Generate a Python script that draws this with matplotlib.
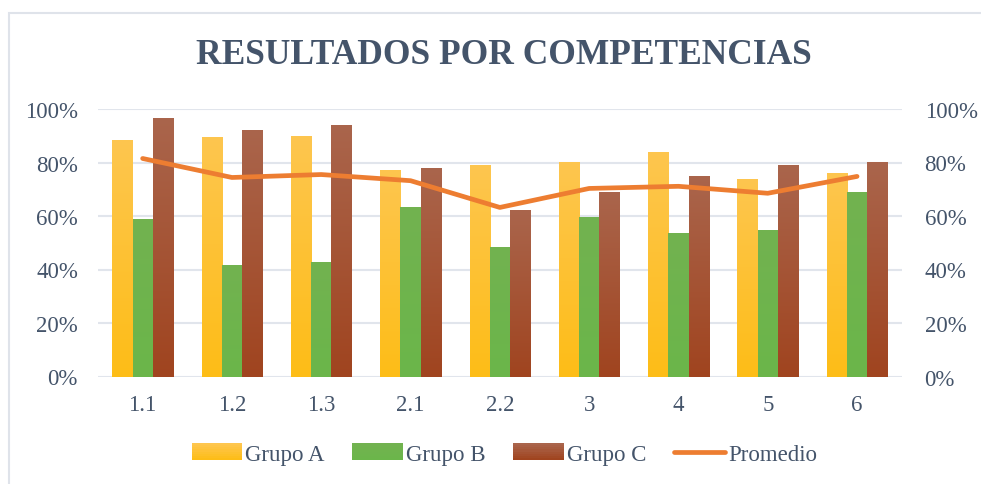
import matplotlib
matplotlib.use("Agg")
import matplotlib.pyplot as plt
import numpy as np
from matplotlib.patches import Rectangle
from matplotlib.colors import LinearSegmentedColormap
from matplotlib.legend_handler import HandlerBase

categories = ["1.1", "1.2", "1.3", "2.1", "2.2", "3", "4", "5", "6"]
grupo_a = [88.4, 89.5, 89.9, 77.2, 79.0, 80.2, 83.9, 73.8, 76.1]
grupo_b = [58.8, 41.6, 42.8, 63.3, 48.3, 59.7, 53.6, 54.8, 69.0]
grupo_c = [96.6, 92.1, 94.0, 77.9, 62.2, 69.1, 74.9, 79.0, 80.2]
promedio = [81.5, 74.4, 75.5, 73.2, 63.2, 70.3, 71.1, 68.5, 74.8]
yticks = [0, 20, 40, 60, 80, 100]
ytick_labels = ["0%", "20%", "40%", "60%", "80%", "100%"]

plt.rcParams['font.family'] = ['Liberation Serif', 'DejaVu Serif']
text_color = "#44546a"
grid_color = "#e1e5ec"
fs = 16.5

grads = {
    "Grupo A": ("#fdbd17", "#fec64f"),
    "Grupo B": ("#6bb64a", "#72b250"),
    "Grupo C": ("#a0441f", "#aa654c"),
}

fig = plt.figure(figsize=(9.81, 4.85), dpi=100)
fig.patches.append(Rectangle((9/981, -0.1), 1.2, 1 - 14/485 + 0.1, transform=fig.transFigure,
                             fill=False, edgecolor="#dfe3ea", linewidth=1.5))

ax = fig.add_axes([98/981, 1 - 377.5/485, (901.7 - 98)/981, (377.5 - 110)/485])
x = np.arange(len(categories))
w = 0.226

def grad_bar(ax, xpos, vals, name):
    bars = ax.bar(xpos, vals, width=w, color=grads[name][0], zorder=2, linewidth=0, label=name)
    cmap = LinearSegmentedColormap.from_list(name, [grads[name][0], grads[name][1]])
    g = np.linspace(0, 1, 256).reshape(-1, 1)
    for b in bars:
        x0, y0 = b.get_x(), b.get_y()
        ax.imshow(g, cmap=cmap, origin="lower", aspect="auto", zorder=2.5,
                  extent=(x0, x0 + b.get_width(), y0, y0 + b.get_height()),
                  clip_path=b, clip_on=True)
    return bars

grad_bar(ax, x - w, grupo_a, "Grupo A")
grad_bar(ax, x, grupo_b, "Grupo B")
grad_bar(ax, x + w, grupo_c, "Grupo C")
ax.plot(x, promedio, color="#ed7d31", linewidth=3.4, solid_capstyle="round",
        solid_joinstyle="round", zorder=4, label="Promedio")

ax.set_xlim(-0.5, len(categories) - 0.5)
ax.set_ylim(0, 100)
ax.set_yticks(yticks)
ax.set_yticklabels(ytick_labels)
ax.set_xticks(x)
ax.set_xticklabels(categories)
ax.yaxis.grid(True, color=grid_color, linewidth=1.5, zorder=0)
ax.set_axisbelow(True)
for s in ax.spines.values():
    s.set_visible(False)
ax.tick_params(axis="both", length=0, labelsize=fs, colors=text_color)
ax.tick_params(axis="y", pad=14.4)
ax.tick_params(axis="x", pad=12.5)

ax2 = ax.twinx()
ax2.set_ylim(0, 100)
ax2.set_yticks(yticks)
ax2.set_yticklabels(ytick_labels)
for s in ax2.spines.values():
    s.set_visible(False)
ax2.tick_params(axis="y", length=0, labelsize=fs, colors=text_color, pad=16.5)

fig.text(0.5135, 1 - 56/485, "RESULTADOS POR COMPETENCIAS", ha="center", va="center",
         fontsize=25.5, fontweight="bold", color=text_color)

class GradHandler(HandlerBase):
    def __init__(self, c0, c1):
        super().__init__()
        self.c0, self.c1 = c0, c1
    def create_artists(self, legend, orig_handle, xdescent, ydescent, width, height, fontsize, trans):
        cmap = LinearSegmentedColormap.from_list("h", [self.c0, self.c1])
        n = 8
        hh = 12.0
        y0 = -ydescent + height * 0.5 - hh / 2
        arts = []
        for i in range(n):
            arts.append(Rectangle((-xdescent, y0 + i * hh / n), width, hh / n + 0.3, transform=trans,
                                  facecolor=cmap(i / (n - 1)), edgecolor="none"))
        return arts

handles, labels = ax.get_legend_handles_labels()
order = ["Grupo A", "Grupo B", "Grupo C", "Promedio"]
hd = dict(zip(labels, handles))
handles = [hd[l] for l in order]
hmap = {hd[l]: GradHandler(*grads[l]) for l in grads}
leg = fig.legend(handles, order, loc="center", bbox_to_anchor=(0.514, 1 - 455/485), ncol=4,
                 frameon=False, fontsize=fs, handlelength=2.2, handletextpad=0.15,
                 columnspacing=1.2, handler_map=hmap)
for t in leg.get_texts():
    t.set_color(text_color)

fig.savefig("out.png", dpi=100)
